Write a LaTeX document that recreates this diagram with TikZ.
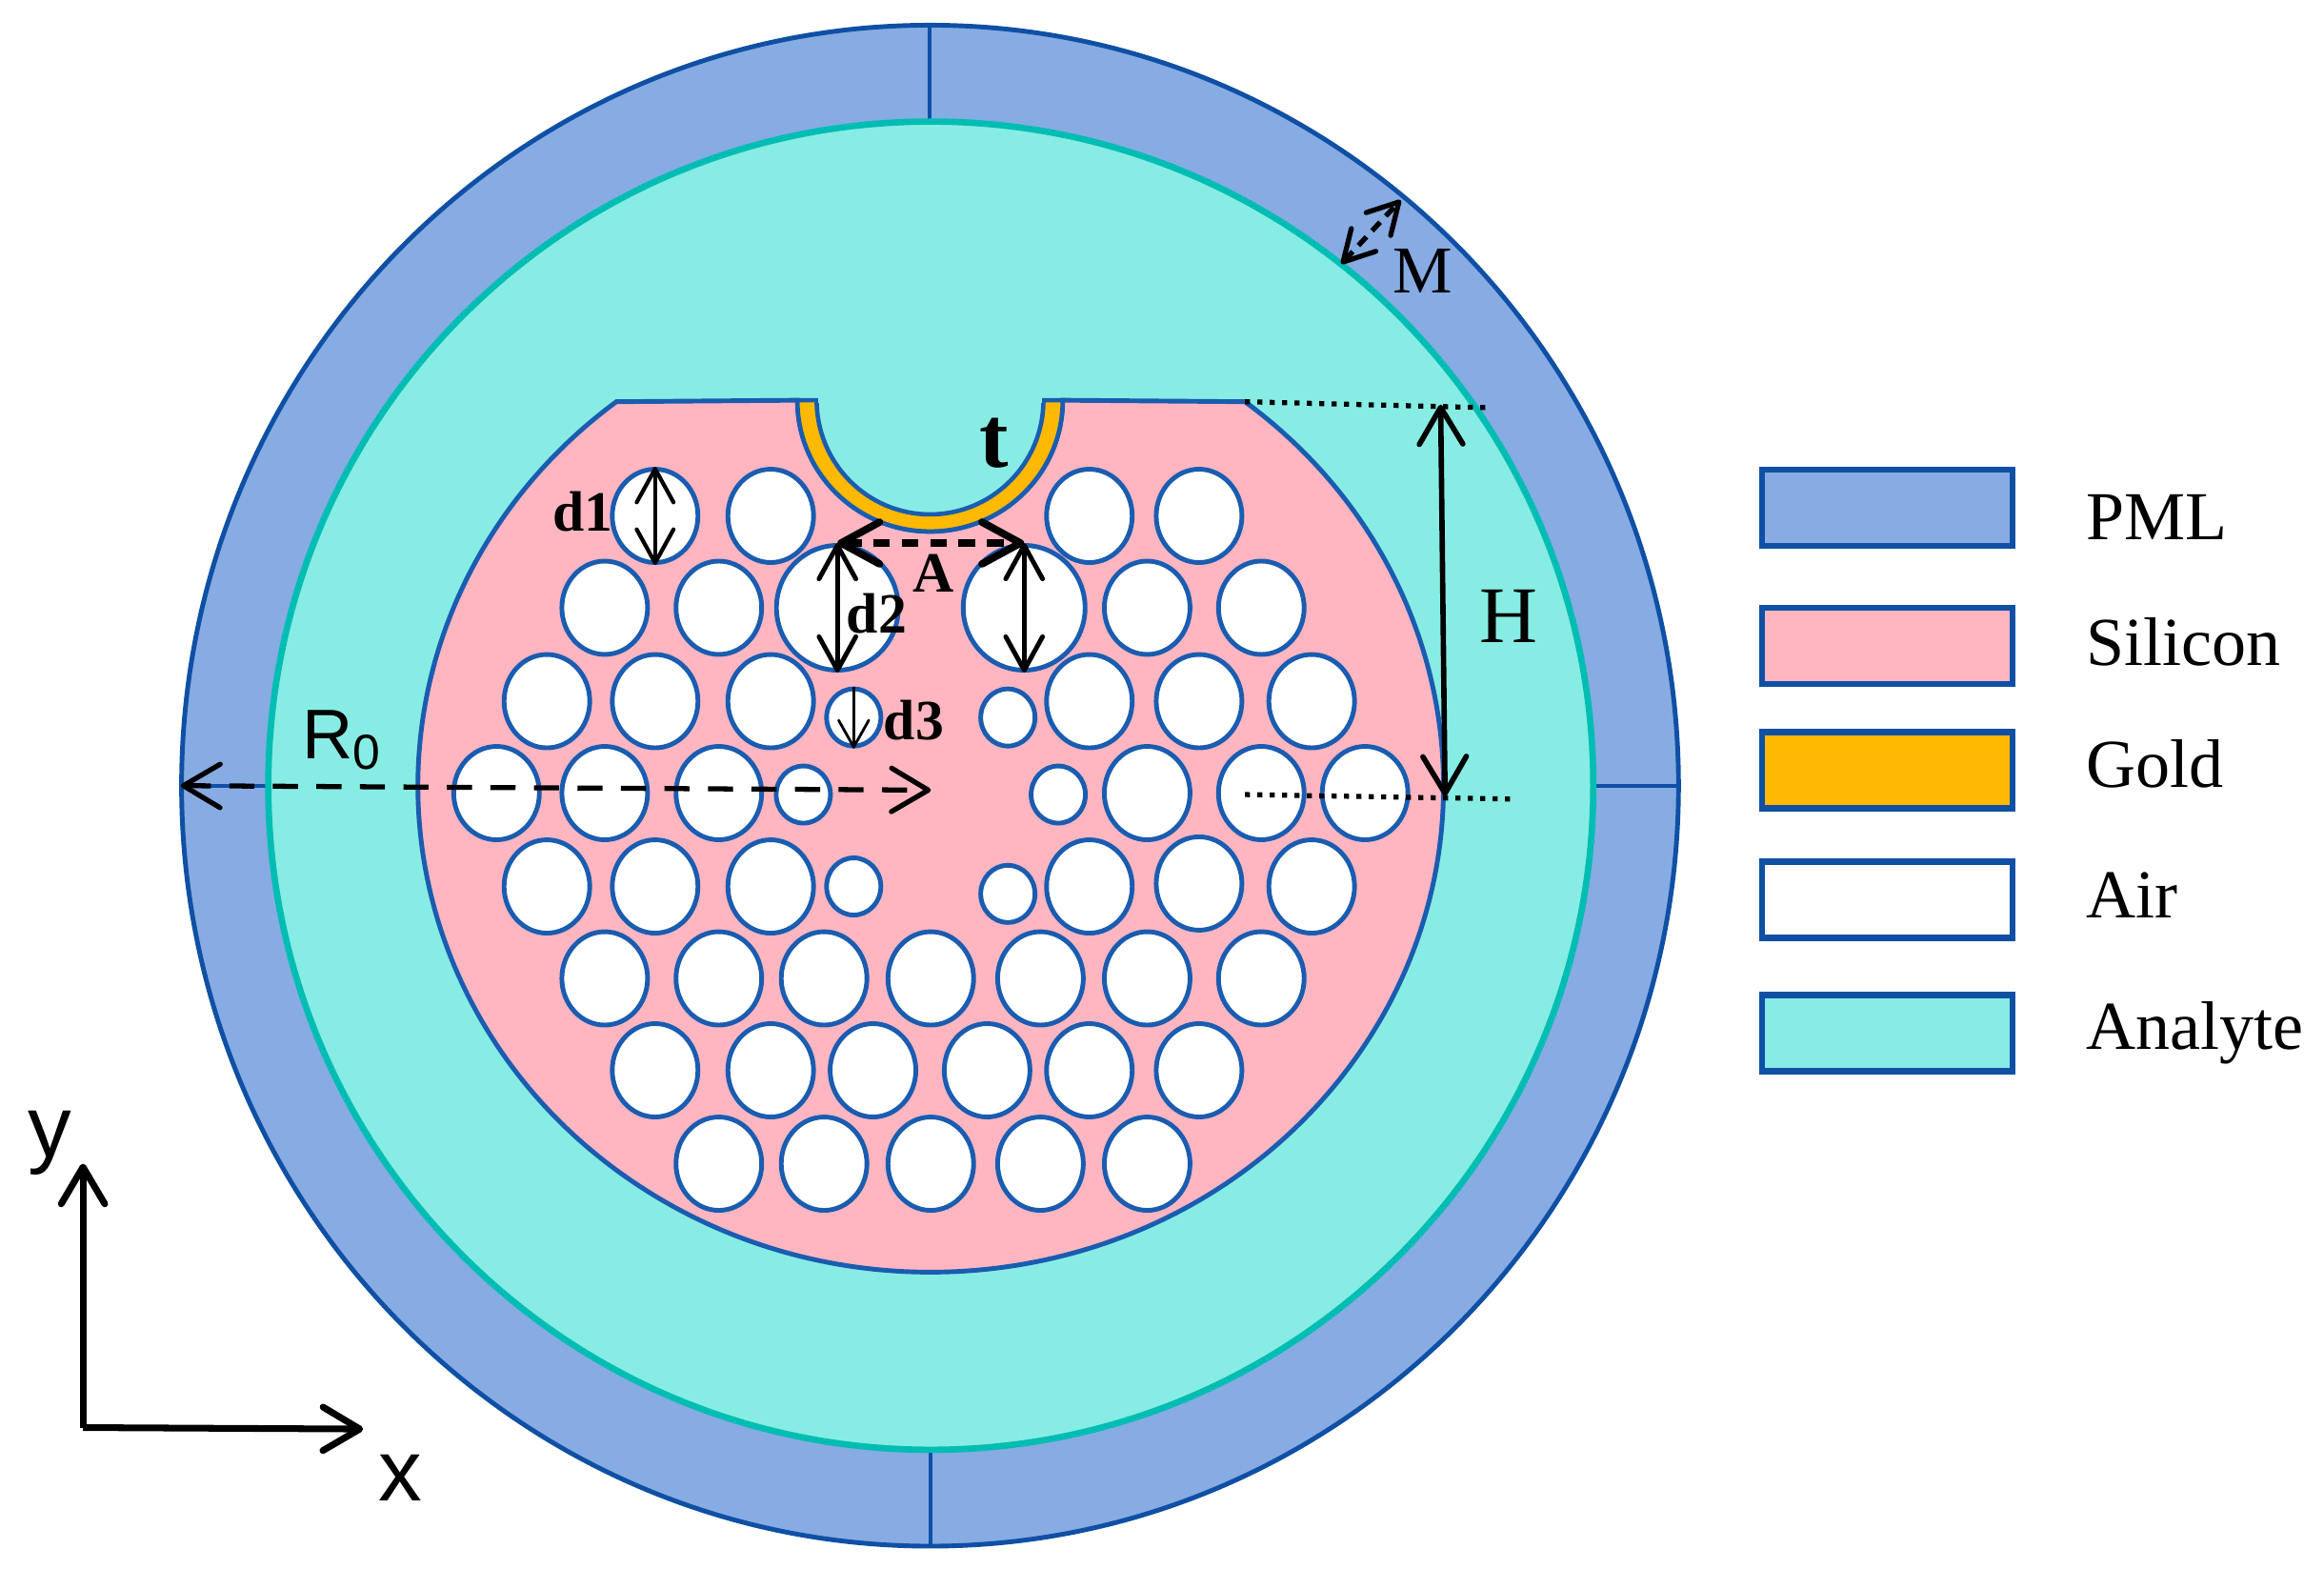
\documentclass[tikz,border=0pt]{standalone}
\usepackage{fontspec}
\setmainfont{Liberation Serif}
\newfontfamily\axisfont{Liberation Sans}
\usetikzlibrary{arrows.meta,shapes.geometric}
\definecolor{pmlblue}{HTML}{87ABE3}
\definecolor{edgeblue}{HTML}{0F50A5}
\definecolor{holeblue}{HTML}{1A5CB0}
\definecolor{analytecyan}{HTML}{87ECE4}
\definecolor{analyteedge}{HTML}{00BDB3}
\definecolor{siliconpink}{HTML}{FFB6C1}
\definecolor{goldfill}{HTML}{FFB900}
\tikzset{
  bigtip/.tip={Straight Barb[round,length=11pt,width=13pt]},
  boldtip/.tip={Straight Barb[round,length=11.5pt,width=12.5pt]},
  midtip/.tip={Straight Barb[round,length=10pt,width=11pt]},
  mtip/.tip={Straight Barb[round,length=9pt,width=10pt]},
  smalltip/.tip={Straight Barb[round,length=8pt,width=9pt]},
  airhole/.style={ellipse,draw=holeblue,fill=white,line width=1.4pt,inner sep=0pt,minimum width=0.9cm,minimum height=0.98cm},
  bighole/.style={airhole,minimum width=1.28cm,minimum height=1.31cm},
  smallhole/.style={airhole,minimum width=0.57cm,minimum height=0.6cm},
  legendbox/.style={draw=edgeblue,line width=1.8pt,inner sep=0pt,minimum width=2.63cm,minimum height=0.8cm},
  legendtext/.style={anchor=west,inner sep=0pt,font=\fontsize{20.5}{24}\selectfont},
  boldlabel/.style={inner sep=0pt,font=\fontsize{17}{20}\selectfont\bfseries},
  axislabel/.style={inner sep=0pt,font=\fontsize{26}{30}\selectfont\axisfont},
  thickdim/.style={bigtip-bigtip,line width=1.6pt},
  thindim/.style={midtip-midtip,line width=1.2pt},
  dotline/.style={line width=1.5pt,dash pattern=on 1.5pt off 2.2pt}
}
\begin{document}
\begin{tikzpicture}[x=0.015561cm,y=0.015561cm]
    \useasboundingbox (0,0) rectangle (1568,1058);

    \draw[edgeblue,fill=pmlblue,line width=1.4pt] (627.5,528) ellipse [x radius=505,y radius=513];
    \draw[edgeblue,line width=1.1pt] (627,1041) -- (627,976);
    \draw[edgeblue,line width=1.1pt] (628,80) -- (628,15);
    \draw[edgeblue,line width=1.1pt] (122,528) -- (181,528);
    \draw[edgeblue,line width=1.1pt] (1076,528) -- (1132,528);
    \draw[analyteedge,fill=analytecyan,line width=1.9pt] (628,528) ellipse [x radius=447,y radius=448];
    \draw[holeblue,fill=siliconpink,line width=1.4pt] (840,787) arc[start angle=52.2,end angle=-232.2,x radius=346,y radius=328] -- (538,788) arc[start angle=180,end angle=360,x radius=89.5,y radius=88.5] -- cycle;
    \draw[holeblue,fill=goldfill,line width=1.3pt] (538,788) arc[start angle=180,end angle=360,x radius=89.5,y radius=88.5] -- (704,788) arc[start angle=360,end angle=180,x radius=76.5,y radius=77] -- cycle;
    \fill[analytecyan] (552,790) rectangle (703,786);

    \node[airhole] (h11) at (442,710) {};
    \node[airhole] (h12) at (520,710) {};
    \node[airhole] (h13) at (735,710) {};
    \node[airhole] (h14) at (809,710) {};
    \node[airhole] (h21) at (408,648) {};
    \node[airhole] (h22) at (485,648) {};
    \node[bighole] (h23) at (565,648) {};
    \node[bighole] (h24) at (691,648) {};
    \node[airhole] (h25) at (774,648) {};
    \node[airhole] (h26) at (851,648) {};
    \node[airhole] (h31) at (369,585) {};
    \node[airhole] (h32) at (442,585) {};
    \node[airhole] (h33) at (520,585) {};
    \node[smallhole] (h34) at (576,574) {};
    \node[smallhole] (h35) at (680,574) {};
    \node[airhole] (h36) at (735,585) {};
    \node[airhole] (h37) at (809,585) {};
    \node[airhole] (h38) at (885,585) {};
    \node[airhole] (h41) at (335,523) {};
    \node[airhole] (h42) at (408,523) {};
    \node[airhole] (h43) at (485,523) {};
    \node[smallhole] (h44) at (542,522) {};
    \node[smallhole] (h45) at (714,522) {};
    \node[airhole] (h46) at (774,523) {};
    \node[airhole] (h47) at (851,523) {};
    \node[airhole] (h48) at (921,523) {};
    \node[airhole] (h51) at (369,460) {};
    \node[airhole] (h52) at (442,460) {};
    \node[airhole] (h53) at (520,460) {};
    \node[smallhole] (h54) at (576,460) {};
    \node[smallhole] (h55) at (680,455) {};
    \node[airhole] (h56) at (735,460) {};
    \node[airhole] (h57) at (809,462) {};
    \node[airhole] (h58) at (885,460) {};
    \node[airhole] (h61) at (408,398) {};
    \node[airhole] (h62) at (485,398) {};
    \node[airhole] (h63) at (556,398) {};
    \node[airhole] (h64) at (628,398) {};
    \node[airhole] (h65) at (702,398) {};
    \node[airhole] (h66) at (774,398) {};
    \node[airhole] (h67) at (851,398) {};
    \node[airhole] (h71) at (442,336) {};
    \node[airhole] (h72) at (520,336) {};
    \node[airhole] (h73) at (589,336) {};
    \node[airhole] (h74) at (666,336) {};
    \node[airhole] (h75) at (735,336) {};
    \node[airhole] (h76) at (809,336) {};
    \node[airhole] (h81) at (485,273) {};
    \node[airhole] (h82) at (556,273) {};
    \node[airhole] (h83) at (628,273) {};
    \node[airhole] (h84) at (702,273) {};
    \node[airhole] (h85) at (774,273) {};

    \node[legendbox,fill=pmlblue] (pmlbox) at (1273.5,715.5) {};
    \node[legendbox,fill=siliconpink] (siliconbox) at (1273.5,622.5) {};
    \node[legendbox,fill=goldfill] (goldbox) at (1273.5,538.5) {};
    \node[legendbox,fill=white] (airbox) at (1273.5,451) {};
    \node[legendbox,fill=analytecyan] (analytebox) at (1273.5,361) {};
    \node[legendtext] (pmltext) at (1407,709) {PML};
    \node[legendtext] (silicontext) at (1407,625) {Silicon};
    \node[legendtext] (goldtext) at (1407,543) {Gold};
    \node[legendtext] (airtext) at (1407,454) {Air};
    \node[legendtext] (analytetext) at (1407,361) {Analyte};

    \node[boldlabel] (d1text) at (393,713) {d1};
    \node[boldlabel] (d2text) at (591.5,644) {d2};
    \node[boldlabel] (d3text) at (616.5,572) {d3};
    \node[boldlabel] (atext) at (630,671) {A};
    \node[boldlabel,font=\fontsize{26}{30}\selectfont\bfseries] (ttext) at (671,759) {t};
    \node[inner sep=0pt,font=\fontsize{20}{24}\selectfont] (mtext) at (960,875) {M};
    \node[inner sep=0pt,font=\fontsize{24}{28}\selectfont] (htext) at (1018,642) {H};
    \node[inner sep=0pt,font=\fontsize{21}{24}\selectfont\axisfont] (rtext) at (231,559) {R\textsubscript{0}};
    \node[axislabel] (ytext) at (33.5,287) {y};
    \node[axislabel] (xtext) at (270,61) {x};

    \coordinate (rleft) at (122,528);
    \coordinate (rright) at (628,525);
    \coordinate (mlow) at (905,880);
    \coordinate (mhigh) at (945,923);
    \coordinate (hhigh) at (972,785);
    \coordinate (hlow) at (975,521);
    \coordinate (dota) at (840,787);
    \coordinate (dotb) at (1003,783);
    \coordinate (dotc) at (840,522);
    \coordinate (dotd) at (1019,519);
    \coordinate (origin) at (56,95);
    \coordinate (yend) at (56,273);
    \coordinate (xend) at (245,94);

    \draw[thickdim,line width=1.5pt,dash pattern=on 7.5pt off 5.5pt] (rleft) to (rright);
    \draw[mtip-mtip,line width=1.5pt,dash pattern=on 3.5pt off 2.5pt] (mlow) to (mhigh);
    \draw[boldtip-boldtip,line width=2.2pt,dash pattern=on 5pt off 3.5pt] (h23.north) to (h24.north);
    \draw[thindim] (h11.north) to (h11.south);
    \draw[thindim,line width=1.4pt] (h23.north) to (h23.south);
    \draw[thindim,line width=1.4pt] (h24.north) to (h24.south);
    \draw[-smalltip,line width=0.8pt] (h34.north) to (h34.south);
    \draw[thickdim] (hhigh) to (hlow);
    \draw[dotline] (dota) to (dotb);
    \draw[dotline] (dotc) to (dotd);
    \draw[-bigtip,line width=2pt] (origin) to (yend);
    \draw[-bigtip,line width=2pt] (origin) to (xend);
\end{tikzpicture}
\end{document}
